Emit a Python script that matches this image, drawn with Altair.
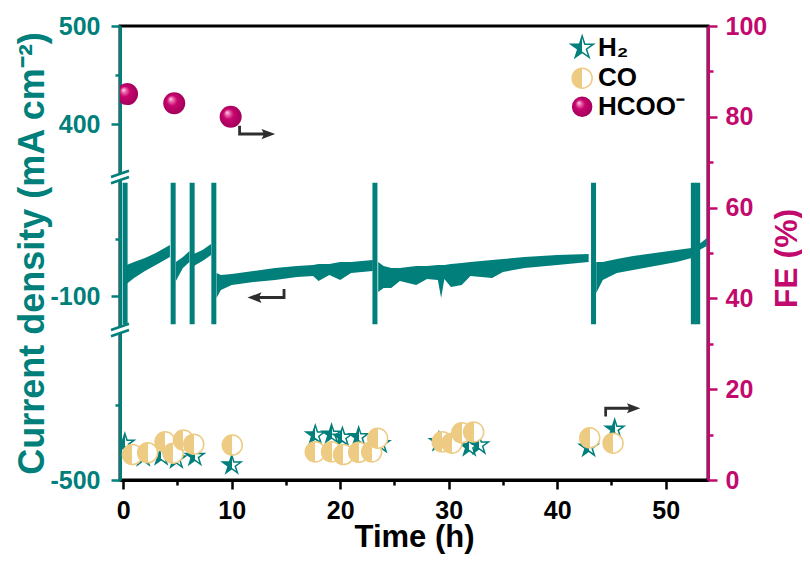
import altair as alt
import pandas as pd

TEAL = "#007F7B"
TAN = "#EDCB83"
MAG = "#C2096E"
ARROW_C = "#2E2E2E"
FONT = "Liberation Sans"

# ---------------- data ----------------
# current density band (mA cm-2): upper / lower edge of the noisy trace
band_seg = ["A"] * 5 + ["B"] * 3 + ["C"] * 3 + ["D"] * 13 + ["E"] * 17 + ["F"] * 7 + ["G"] * 2
band_t = [0.3, 1.0, 2.0, 3.0, 4.3,
          4.85, 5.5, 6.1,
          6.5, 7.3, 8.1,
          8.6, 9.0, 10, 12, 14, 16, 17.5, 18, 19, 20, 21, 22, 23.0,
          23.5, 24.0, 24.7, 25.5, 27, 28, 29.0, 29.3, 29.6, 30.2, 31.2, 32, 34, 35, 37, 40, 42.9,
          43.6, 44.2, 45.5, 47, 49, 51, 52.4,
          53.1, 53.8]
band_hi = [-72.6, -70.0, -66.5, -62.1, -55.0,
           -70.0, -65.6, -60.3,
           -62.9, -59.4, -54.1,
           -79.7, -81.5, -80.6, -77.9, -75.3, -73.5, -72.6, -71.8, -71.8, -70.0, -70.0, -69.1, -68.2,
           -70.0, -73.5, -75.3, -75.3, -73.5, -73.5, -72.6, -72.6, -72.6, -71.8, -70.9, -70.0, -68.2, -67.4, -65.6, -63.8, -62.9,
           -70.0, -70.0, -67.4, -64.7, -62.1, -59.4, -57.6,
           -54.1, -48.8]
band_lo = [-89.4, -84.1, -77.9, -72.6, -65.6,
           -86.8, -75.3, -70.0,
           -73.5, -69.1, -63.8,
           -101.8, -94.7, -90.3, -87.6, -85.9, -83.2, -82.4, -86.8, -81.5, -85.9, -79.7, -78.8, -77.9,
           -96.5, -92.9, -92.9, -86.8, -90.3, -85.0, -85.9, -101.8, -85.0, -92.1, -90.3, -82.4, -84.1, -78.8, -75.3, -72.6, -70.0,
           -97.4, -85.9, -79.7, -77.1, -73.5, -70.0, -66.5,
           -59.4, -55.9]

# vertical spikes of the current trace
spike_t = [0.17, 4.6, 6.35, 8.35, 23.2, 43.35, 52.55, 52.95]
spike_top = [0] * 8
spike_bot = [-125] * 8

# Faradaic efficiencies (%)
h2_t = [0.15, 1.85, 3.5, 4.9, 6.6, 10.0, 17.7, 19.2, 20.2, 21.7, 23.7, 29.1, 31.9, 32.8, 42.9, 45.3]
h2_fe = [8.1, 5.1, 5.3, 4.6, 5.2, 3.3, 9.9, 10.1, 9.4, 9.5, 8.0, 8.4, 7.3, 7.7, 7.2, 11.2]
co_t = [0.85, 2.25, 3.85, 4.6, 5.55, 6.5, 10.05, 17.7, 19.2, 20.3, 21.7, 22.9, 23.45, 29.4, 30.3, 31.2, 32.3, 43.0, 45.15]
co_fe = [5.6, 6.0, 8.4, 5.9, 8.8, 7.9, 7.7, 6.2, 6.2, 5.6, 6.1, 6.2, 9.2, 8.4, 8.1, 10.4, 10.6, 9.3, 8.1]
hcoo_t = [0.35, 4.7, 9.9]
hcoo_fe = [85, 83, 80]

# legend entries
legend_labels = ["H\u2082", "CO", "HCOO\u207b"]
legend_fe = [95.2, 88.5, 82.2]
legend_sym_t = 42.3
legend_txt_t = 43.75

# axis tick values
x_ticks = list(range(0, 55, 5))
cd_ticks = [500, 450, 400, -50, -100, -450, -500]
fe_ticks = list(range(0, 101, 10))

# ---------------- shapes / fills ----------------
STAR = ("M 0 -1 L 0.2245 -0.309 L 0.9511 -0.309 L 0.3633 0.118 L 0.5878 0.809 "
        "L 0 0.382 L -0.5878 0.809 L -0.3633 0.118 L -0.9511 -0.309 L -0.2245 -0.309 Z")
ARROW_R_UP = ("M -1 -0.3 L -0.85 -0.3 L -0.85 0.07 L 0.4 0.07 L 0.4 0.23 L -1 0.23 Z "
              "M 0.26 -0.13 L 1 0.15 L 0.26 0.43 L 0.4 0.15 Z")
ARROW_R_DOWN = ("M -1 -0.23 L 0.4 -0.23 L 0.4 -0.07 L -0.85 -0.07 L -0.85 0.3 L -1 0.3 Z "
                "M 0.26 -0.43 L 1 -0.15 L 0.26 0.13 L 0.4 -0.15 Z")
ARROW_L_UP = ("M 1 -0.3 L 0.85 -0.3 L 0.85 0.07 L -0.4 0.07 L -0.4 0.23 L 1 0.23 Z "
              "M -0.26 -0.13 L -1 0.15 L -0.26 0.43 L -0.4 0.15 Z")
BRK_FILL = "M -1 0 L 1 -0.7 L 1 0 L -1 0.7 Z"
BRK_LINES = "M -1 0 L 1 -0.7 M -1 0.7 L 1 0"


def half_grad(c):
    return {"gradient": "linear", "x1": 0, "y1": 0, "x2": 1, "y2": 0,
            "stops": [{"offset": 0, "color": c}, {"offset": 0.5, "color": c},
                      {"offset": 0.5, "color": "white"}, {"offset": 1, "color": "white"}]}


SPHERE = {"gradient": "radial", "x1": 0.33, "y1": 0.3, "r1": 0, "x2": 0.5, "y2": 0.5, "r2": 0.55,
          "stops": [{"offset": 0, "color": "#FFF0F8"}, {"offset": 0.14, "color": "#F27FB8"},
                    {"offset": 0.42, "color": "#C8056F"}, {"offset": 1, "color": "#9E0058"}]}

# ---------------- data frames ----------------
band_df = pd.DataFrame({"t": band_t, "cd": band_lo, "cd2": band_hi, "seg": band_seg})
spike_df = pd.DataFrame({"t": spike_t, "cd": spike_bot, "cd2": spike_top})
h2_df = pd.DataFrame({"t": h2_t, "fe": h2_fe})
co_df = pd.DataFrame({"t": co_t, "fe": co_fe})
hcoo_df = pd.DataFrame({"t": hcoo_t, "fe": hcoo_fe})
brk_df = pd.DataFrame({"t": [-0.3, -0.3], "cd": [170, -265]})
arrowL_df = pd.DataFrame({"t": [13.2], "cd": [-98.9]})
arrowR1_df = pd.DataFrame({"t": [12.3], "fe": [76.8]})
arrowR2_df = pd.DataFrame({"t": [46.0], "fe": [15.2]})
leg_df = pd.DataFrame({"label": legend_labels, "fe": legend_fe,
                       "ts": [legend_sym_t] * 3, "tt": [legend_txt_t] * 3})

# ---------------- scales / axes ----------------
x_scale = alt.Scale(domain=[-0.3, 53.9], nice=False, zero=False)
x_axis = alt.Axis(
    title="Time (h)", values=x_ticks,
    labelExpr="datum.value % 10 === 0 ? datum.label : ''",
    tickSize={"condition": {"test": "datum.value % 10 === 0", "value": 9}, "value": 5},
    tickWidth=2.5, tickColor="black", domainColor="black", domainWidth=3,
    labelFont=FONT, labelFontSize=25, labelFontWeight="bold", labelColor="black",
    labelPadding=9, labelFlush=False, labelOverlap=False,
    titleFont=FONT, titleFontSize=31, titleFontWeight="bold", titleColor="black",
    titleBaseline="alphabetic", titleY=66, grid=False)

cd_scale = alt.Scale(domain=[-500, -400, -130, 5, 346, 500],
                     range=[454, 304, 304, 151, 151, 0], nice=False, zero=False)
MAJ_CD = "indexof([500, 400, -100, -500], datum.value) >= 0"
cd_axis = alt.Axis(
    title="Current density (mA cm\u207b\u00b2)", values=cd_ticks, orient="left",
    labelExpr=MAJ_CD + " ? '' + datum.value : ''",
    tickSize={"condition": {"test": MAJ_CD, "value": 9}, "value": 5},
    tickWidth=2.5, tickColor=TEAL, domainColor=TEAL, domainWidth=3,
    labelFont=FONT, labelFontSize=25, labelFontWeight="bold", labelColor=TEAL,
    labelPadding=11, labelFlush=False, labelOverlap=False,
    titleFont=FONT, titleFontSize=36, titleFontWeight="bold", titleColor=TEAL,
    titleAngle=270, titleX=-88, titleY=227, titleAlign="center", titleBaseline="middle",
    grid=False)

fe_scale = alt.Scale(domain=[0, 100], nice=False, zero=False)
fe_axis = alt.Axis(
    title="FE (%)", values=fe_ticks, orient="right",
    labelExpr="datum.value % 20 === 0 ? datum.label : ''",
    tickSize={"condition": {"test": "datum.value % 20 === 0", "value": 9}, "value": 5},
    tickWidth=2.5, tickColor=MAG, domainColor=MAG, domainWidth=3,
    labelFont=FONT, labelFontSize=25, labelFontWeight="bold", labelColor=MAG,
    labelPadding=8, labelFlush=False, labelOverlap=False,
    titleFont=FONT, titleFontSize=32, titleFontWeight="bold", titleColor=MAG,
    titleAngle=270, titleX=78, titleY=232, titleAlign="center", titleBaseline="middle",
    grid=False)

X = alt.X("t:Q", scale=x_scale, axis=x_axis)
XS = alt.X("ts:Q", scale=x_scale, axis=x_axis)
XT = alt.X("tt:Q", scale=x_scale, axis=x_axis)
YCD = alt.Y("cd:Q", scale=cd_scale, axis=cd_axis)
YFE = alt.Y("fe:Q", scale=fe_scale, axis=fe_axis)

# ---------------- current-density layers ----------------
band = alt.Chart(band_df).mark_area(color=TEAL, opacity=1, clip=True).encode(
    x=X, y=YCD, y2="cd2:Q", detail="seg:N")
spikes = alt.Chart(spike_df).mark_rule(color=TEAL, strokeWidth=5, clip=True).encode(
    x=X, y=YCD, y2="cd2:Q")
arrowL = alt.Chart(arrowL_df).mark_point(shape=ARROW_L_UP, filled=True, color=ARROW_C,
                                         opacity=1, size=1444, strokeWidth=0).encode(x=X, y=YCD)
brk_w = alt.Chart(brk_df).mark_point(shape=BRK_FILL, filled=True, color="white",
                                     opacity=1, size=324, strokeWidth=0).encode(x=X, y=YCD)
brk_l = alt.Chart(brk_df).mark_point(shape=BRK_LINES, filled=False, color=TEAL,
                                     opacity=1, size=324, strokeWidth=2.5).encode(x=X, y=YCD)
cd_layer = alt.layer(band, spikes, arrowL, brk_w, brk_l)

# ---------------- FE layers ----------------
stars = alt.Chart(h2_df).mark_point(shape=STAR, filled=True, fill=half_grad(TEAL), stroke=TEAL,
                                    strokeWidth=1.5, size=380, opacity=1, clip=True).encode(x=X, y=YFE)
circles = alt.Chart(co_df).mark_point(shape="circle", filled=True, fill=half_grad(TAN), stroke=TAN,
                                      strokeWidth=1.5, size=400, opacity=1, clip=True).encode(x=X, y=YFE)
spheres = alt.Chart(hcoo_df).mark_point(shape="circle", filled=True, fill=SPHERE, strokeWidth=0,
                                        size=484, opacity=1, clip=True).encode(x=X, y=YFE)
arrowR1 = alt.Chart(arrowR1_df).mark_point(shape=ARROW_R_UP, filled=True, color=ARROW_C,
                                           opacity=1, size=1369, strokeWidth=0).encode(x=X, y=YFE)
arrowR2 = alt.Chart(arrowR2_df).mark_point(shape=ARROW_R_DOWN, filled=True, color=ARROW_C,
                                           opacity=1, size=1296, strokeWidth=0).encode(x=X, y=YFE)

leg_star = alt.Chart(leg_df).transform_filter("datum.label == 'H\u2082'").mark_point(
    shape=STAR, filled=True, fill=half_grad(TEAL), stroke=TEAL, strokeWidth=1.5, size=560,
    opacity=1).encode(x=XS, y=YFE)
leg_circ = alt.Chart(leg_df).transform_filter("datum.label == 'CO'").mark_point(
    shape="circle", filled=True, fill=half_grad(TAN), stroke=TAN, strokeWidth=1.5, size=400,
    opacity=1).encode(x=XS, y=YFE)
leg_sph = alt.Chart(leg_df).transform_filter("datum.label == 'HCOO\u207b'").mark_point(
    shape="circle", filled=True, fill=SPHERE, strokeWidth=0, size=420,
    opacity=1).encode(x=XS, y=YFE)
leg_txt = alt.Chart(leg_df).mark_text(align="left", baseline="middle", font=FONT, fontSize=26,
                                      fontWeight="bold", color="black").encode(
    x=XT, y=YFE, text="label:N")

fe_layer = alt.layer(stars, circles, spheres, arrowR1, arrowR2, leg_star, leg_circ, leg_sph, leg_txt)

chart = alt.layer(cd_layer, fe_layer).resolve_scale(y="independent").properties(
    width=588, height=454,
    padding={"left": 112, "top": 18, "right": 94, "bottom": 74},
    autosize=alt.AutoSizeParams(type="none"),
).configure_view(stroke="black", strokeWidth=3)

chart.save("out.html", embed_options={"renderer": "svg", "actions": False})
